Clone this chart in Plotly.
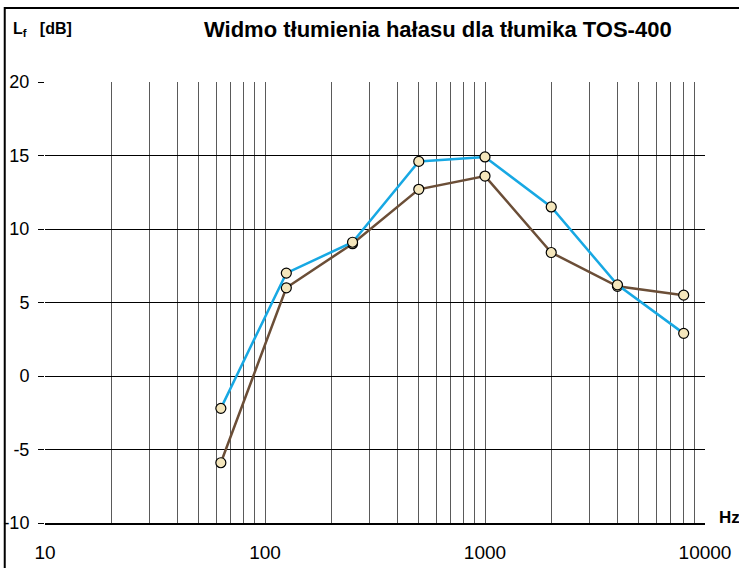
import plotly.graph_objects as go

freq = [63, 125, 250, 500, 1000, 2000, 4000, 8000]
blue_vals = [-2.2, 7.0, 9.1, 14.6, 14.9, 11.5, 6.2, 2.9]
brown_vals = [-5.9, 6.0, 9.0, 12.7, 13.6, 8.4, 6.1, 5.5]

grid_freqs = [10, 20, 30, 40, 50, 60, 70, 80, 90,
              100, 200, 300, 400, 500, 600, 700, 800, 900,
              1000, 2000, 3000, 4000, 5000, 6000, 7000, 8000, 9000, 10000]
decade_labels = {10: "10", 100: "100", 1000: "1000", 10000: "10000"}
y_ticks = [-10, -5, 0, 5, 10, 15, 20]
y_labels = ["-10", "-5", "0", "5", "10", "15", "20"]

title_text = "Widmo tłumienia hałasu dla tłumika TOS-400"
x_tick_font = dict(family="Liberation Sans, Arial", size=19, color="black")
y_tick_font = dict(family="Liberation Sans Narrow, Liberation Sans, Arial", size=18, color="black")

marker_style = dict(symbol="circle", size=10, color="#F4E6BC", line=dict(color="black", width=1.2))

fig = go.Figure()
fig.add_trace(go.Scatter(x=freq, y=brown_vals, mode="lines+markers",
                         line=dict(color="#6B4E37", width=2.5), marker=marker_style,
                         showlegend=False))
fig.add_trace(go.Scatter(x=freq, y=blue_vals, mode="lines+markers",
                         line=dict(color="#17A8E3", width=2.5), marker=marker_style,
                         showlegend=False))

fig.update_layout(
    width=739, height=568,
    margin=dict(l=45, r=34, t=82, b=45, autoexpand=False),
    paper_bgcolor="white", plot_bgcolor="white",
    font=dict(family="Liberation Sans, Arial", color="black"),
    xaxis=dict(type="log", range=[1, 4],
               tickvals=grid_freqs,
               ticktext=[decade_labels.get(f, "") for f in grid_freqs],
               showgrid=True, gridcolor="#5a5a5a", gridwidth=1,
               ticks="outside", ticklen=0, ticklabelstandoff=11,
               ticklabeloverflow="allow",
               tickfont=x_tick_font, zeroline=False, automargin=False,
               showline=True, linecolor="black", linewidth=1.5),
    yaxis=dict(range=[-10, 20], tickvals=y_ticks, ticktext=y_labels,
               showgrid=True, gridcolor="black", gridwidth=1,
               ticks="outside", ticklen=6, tickcolor="black", tickwidth=1,
               ticklabelstandoff=5, automargin=False,
               tickfont=y_tick_font, zeroline=False, showline=False),
    annotations=[
        dict(text="<b>" + title_text + "</b>", xref="paper", yref="paper",
             x=0.595, y=1.118, xanchor="center", yanchor="middle", showarrow=False,
             font=dict(family="Liberation Sans, Arial", size=22, color="black")),
        dict(text="<b>L<sub>f</sub>   [dB]</b>", xref="paper", yref="paper",
             x=-0.052, y=1.12, xanchor="left", yanchor="middle", showarrow=False,
             font=dict(family="Liberation Sans, Arial", size=16, color="black")),
        dict(text="<b>Hz</b>", xref="paper", yref="paper",
             x=1.018, y=0.013, xanchor="left", yanchor="middle", showarrow=False,
             font=dict(family="Liberation Sans, Arial", size=17, color="black")),
    ],
    shapes=[
        dict(type="rect", xref="paper", yref="paper",
             x0=-0.061, x1=1.2, y0=-0.3, y1=1.168,
             line=dict(color="black", width=2), fillcolor="rgba(0,0,0,0)", layer="above"),
    ],
)

fig.write_html("out.html", config={"displayModeBar": False},
               post_script="document.body.style.margin='0px';document.body.style.overflow='hidden';")
